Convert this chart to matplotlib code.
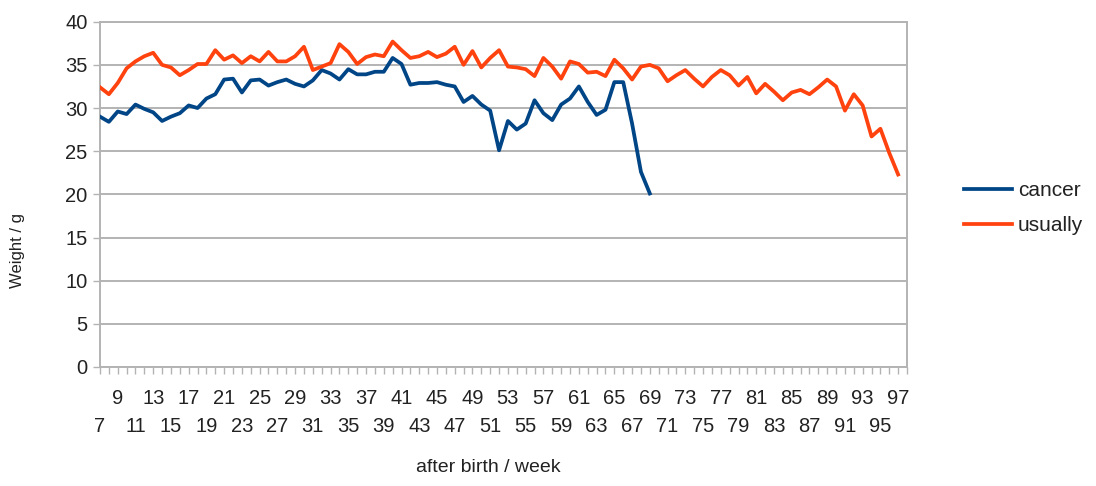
import numpy as np
import matplotlib
matplotlib.use("Agg")
import matplotlib.pyplot as plt
from matplotlib.ticker import MultipleLocator

# ---- data ----
weeks = list(range(7, 98))  # 7 .. 97
usually = [32.4, 31.6, 32.9, 34.6, 35.4, 36.0, 36.4, 35.0, 34.7, 33.8,
           34.4, 35.1, 35.1, 36.7, 35.6, 36.1, 35.2, 36.0, 35.4, 36.5,
           35.4, 35.4, 36.0, 37.1, 34.4, 34.8, 35.2, 37.4, 36.5, 35.1,
           35.9, 36.2, 36.0, 37.7, 36.7, 35.8, 36.0, 36.5, 35.9, 36.3,
           37.1, 35.0, 36.6, 34.7, 35.8, 36.7, 34.8, 34.7, 34.5, 33.7,
           35.8, 34.8, 33.4, 35.4, 35.1, 34.1, 34.2, 33.7, 35.6, 34.6,
           33.3, 34.8, 35.0, 34.6, 33.1, 33.8, 34.4, 33.4, 32.5, 33.6,
           34.4, 33.8, 32.6, 33.6, 31.7, 32.8, 31.9, 30.9, 31.8, 32.1,
           31.6, 32.4, 33.3, 32.5, 29.7, 31.6, 30.3, 26.7, 27.6, 24.8,
           22.3]
cancer = [29.0, 28.4, 29.6, 29.3, 30.4, 29.9, 29.5, 28.5, 29.0, 29.4,
          30.3, 30.0, 31.1, 31.6, 33.3, 33.4, 31.8, 33.2, 33.3, 32.6,
          33.0, 33.3, 32.8, 32.5, 33.2, 34.4, 34.0, 33.3, 34.5, 33.9,
          33.9, 34.2, 34.2, 35.8, 35.1, 32.7, 32.9, 32.9, 33.0, 32.7,
          32.5, 30.7, 31.4, 30.4, 29.7, 25.1, 28.5, 27.5, 28.2, 30.9,
          29.4, 28.6, 30.4, 31.1, 32.5, 30.7, 29.2, 29.8, 33.0, 33.0,
          28.2, 22.6, 20.1]
tick_weeks = list(range(7, 98, 2))
y_ticks = [0, 5, 10, 15, 20, 25, 30, 35, 40]

BLUE = "#004586"
ORANGE = "#ff420e"
GRID = "#b3b3b3"
TXT = "#222222"

plt.rcParams['font.family'] = ['Liberation Sans', 'DejaVu Sans']

fig = plt.figure(figsize=(10.96, 4.86), dpi=100)
ax = fig.add_axes([100/1096, 1 - 367/486, 807/1096, (367 - 21.7)/486])

x_u = [w - 7 for w in weeks]
x_c = [w - 7 for w in weeks[:len(cancer)]]
ax.plot(x_c, cancer, color=BLUE, lw=2.7, solid_joinstyle='round', label='cancer', zorder=3)
ax.plot(x_u, usually, color=ORANGE, lw=2.7, solid_joinstyle='round', label='usually', zorder=3)

ax.set_xlim(0, len(weeks))
ax.set_ylim(0, 40)
ax.set_yticks(y_ticks)
ax.set_yticklabels([str(v) for v in y_ticks])
ax.yaxis.grid(True, color=GRID, lw=1.4)
ax.set_axisbelow(True)

for s in ax.spines.values():
    s.set_color(GRID)
    s.set_linewidth(1.4)

# x ticks: minor marks at each category, labels staggered
ax.xaxis.set_minor_locator(MultipleLocator(1))
ax.tick_params(axis='x', which='minor', length=5, width=1, color=GRID, direction='out')
ax.set_xticks([w - 7 for w in tick_weeks])
ax.set_xticklabels([str(w) for w in tick_weeks], fontsize=14.5, color=TXT)
ax.tick_params(axis='x', which='major', length=5, width=1, color=GRID)
for i, t in enumerate(ax.xaxis.get_major_ticks()):
    t.set_pad(11 if i % 2 == 1 else 31)

ax.tick_params(axis='y', which='major', length=5, width=1, color=GRID, labelsize=14.5,
               labelcolor=TXT, pad=4)

fig.text(18/1096, 1 - 250/486, "Weight / g", rotation=90, ha='center', va='center',
         fontsize=12, color=TXT)
fig.text(488/1096, 1 - 468/486, "after birth / week", ha='center', va='center',
         fontsize=14, color=TXT)

leg = fig.legend(loc='center left', bbox_to_anchor=(945/1096, 1 - 208/486), frameon=False,
                 fontsize=15, handlelength=2.3, handletextpad=0.3, labelspacing=0.75,
                 labelcolor=TXT)

fig.savefig("out.png", dpi=100)
